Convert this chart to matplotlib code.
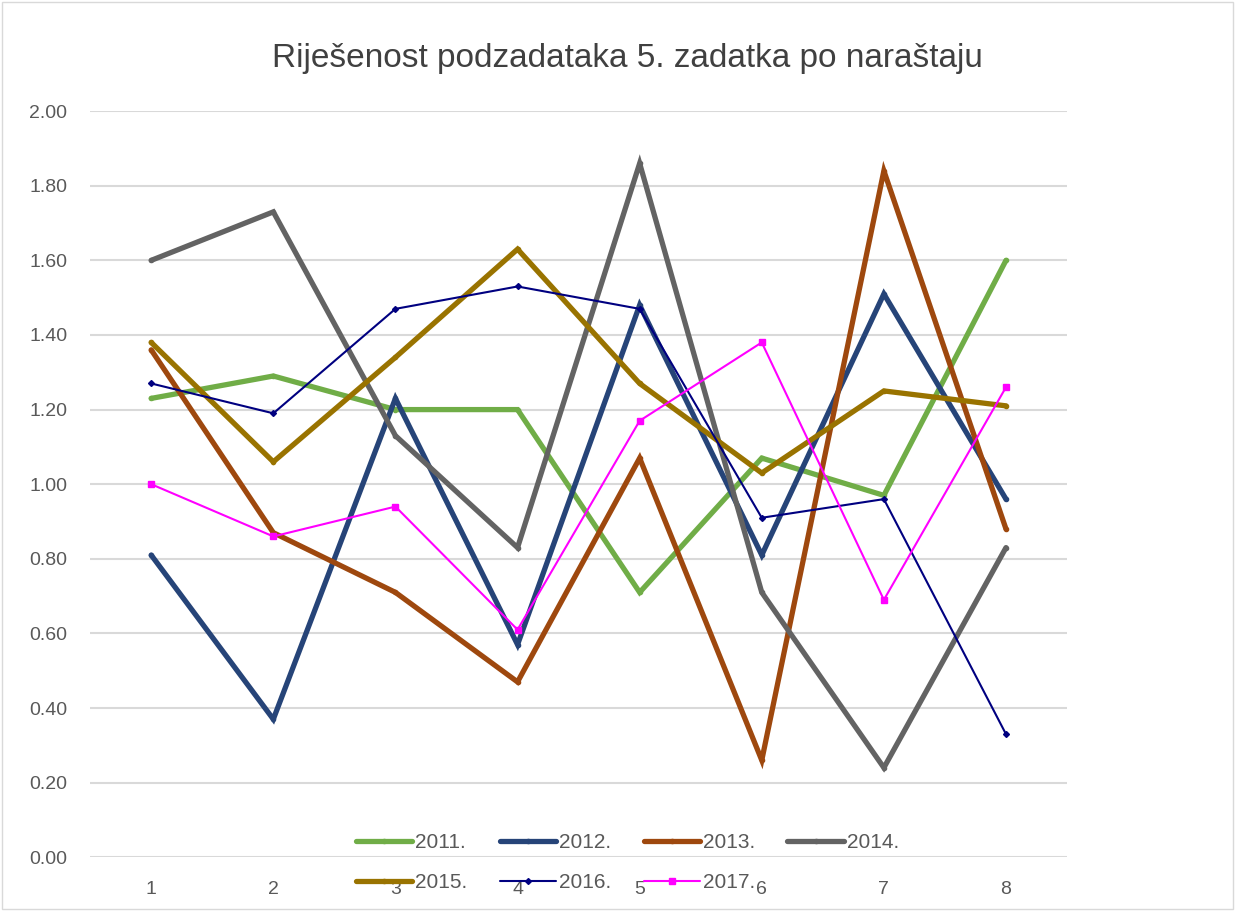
import matplotlib
matplotlib.use("Agg")
import matplotlib.pyplot as plt
import matplotlib.patches as patches

plt.rcParams['font.family'] = ['Liberation Sans', 'DejaVu Sans']

# data
podzadaci = [1, 2, 3, 4, 5, 6, 7, 8]
y2011 = [1.23, 1.29, 1.20, 1.20, 0.71, 1.07, 0.97, 1.60]
y2012 = [0.81, 0.37, 1.23, 0.57, 1.48, 0.81, 1.51, 0.96]
y2013 = [1.36, 0.87, 0.71, 0.47, 1.07, 0.26, 1.84, 0.88]
y2014 = [1.60, 1.73, 1.13, 0.83, 1.86, 0.71, 0.24, 0.83]
y2015 = [1.38, 1.06, 1.34, 1.63, 1.27, 1.03, 1.25, 1.21]
y2016 = [1.27, 1.19, 1.47, 1.53, 1.47, 0.91, 0.96, 0.33]
y2017 = [1.00, 0.86, 0.94, 0.61, 1.17, 1.38, 0.69, 1.26]
labels = ['2011.', '2012.', '2013.', '2014.', '2015.', '2016.', '2017.']

TEXT = '#595959'
GRID = '#d9d9d9'

fig = plt.figure(figsize=(12.35, 9.11), dpi=100, facecolor='white')
ax = fig.add_axes([0.073, 0.059, 0.791, 0.819])

# thick excel-style series, thin ones for 2016/2017
styles = [
    (y2011, '#70ad47', 3.8, 'o', 3),
    (y2012, '#264478', 3.8, 'o', 3),
    (y2013, '#9e480e', 3.8, 'o', 3),
    (y2014, '#636363', 3.8, 'o', 3),
    (y2015, '#997300', 3.8, 'o', 3),
    (y2016, '#000080', 1.5, 'D', 3),
    (y2017, '#ff00ff', 1.5, 's', 5),
]
lines = []
for (vals, col, lw, mk, ms), lab in zip(styles, labels):
    ln, = ax.plot(podzadaci, vals, color=col, linewidth=lw, marker=mk,
                  markersize=ms, markerfacecolor=col, markeredgecolor=col,
                  label=lab, solid_joinstyle='miter', solid_capstyle='round')
    lines.append(ln)

ax.set_xlim(0.5, 8.5)
ax.set_ylim(0, 2.0)
ax.set_yticks([i * 0.2 for i in range(11)])
ax.set_yticklabels([f"{i * 0.2:.2f}" for i in range(11)])
ax.set_xticks(podzadaci)
ax.grid(axis='y', color=GRID, linewidth=1.5)
ax.set_axisbelow(True)
for s in ax.spines.values():
    s.set_visible(False)
ax.tick_params(axis='both', length=0, colors=TEXT, labelsize=14)
ax.tick_params(axis='y', pad=16.5)
ax.tick_params(axis='x', pad=17)

fig.text(0.508, 0.926, 'Riješenost podzadataka 5. zadatka po naraštaju',
         ha='center', va='baseline', fontsize=24, color='#404040')

# legend filled row by row (matplotlib fills columns first)
order = [0, 4, 1, 5, 2, 6, 3]
ax.legend([lines[i] for i in order], [labels[i] for i in order],
          loc='center', bbox_to_anchor=(0.508, 0.053),
          bbox_transform=fig.transFigure, ncol=4, frameon=False,
          fontsize=15, handlelength=2.7, columnspacing=1.55,
          handletextpad=0.15, labelspacing=1.0, labelcolor=TEXT)

fig.patches.append(patches.Rectangle((0.002, 0.002), 0.996, 0.996,
                                     transform=fig.transFigure, fill=False,
                                     edgecolor=GRID, linewidth=1))

fig.savefig('out.png', dpi=100, facecolor='white')
